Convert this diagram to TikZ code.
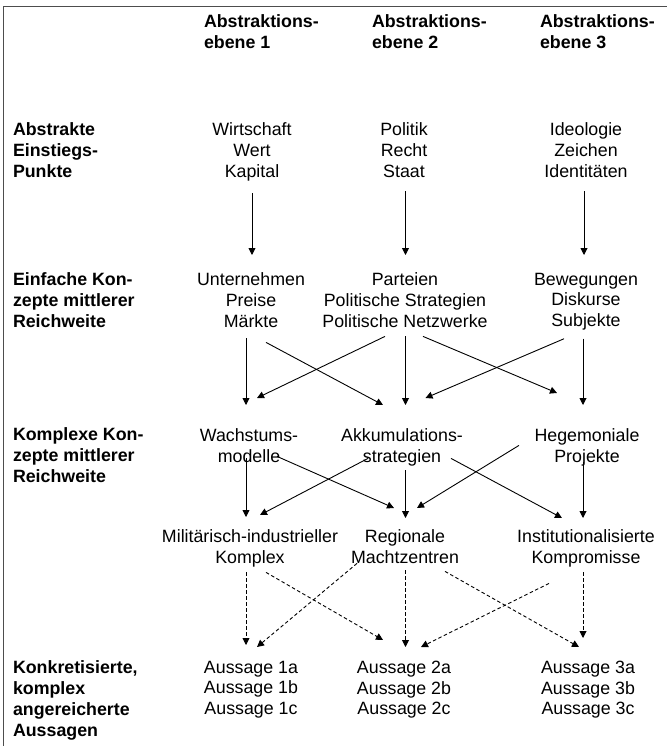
\documentclass[tikz,border=0pt]{standalone}
\usepackage{fontspec}
\setmainfont{Liberation Sans}
\usetikzlibrary{arrows.meta,calc}
\newcommand{\mystrut}{\rule[-1.7pt]{0pt}{16.2pt}}
\definecolor{framec}{HTML}{4D4D4D}
\tikzset{
  txt/.style={inner sep=0pt, outer sep=0pt, align=center, anchor=north,
    font=\fontsize{17.8}{20.8}\selectfont,
    execute at begin node=\mystrut, execute at end node=\mystrut},
  lab/.style={txt, align=left, anchor=north west, font=\fontsize{17.8}{20.8}\selectfont\bfseries},
  arr/.style={line width=0.9pt, -{Triangle[length=7pt,width=7pt]}},
  darr/.style={arr, dash pattern=on 3.5pt off 2.5pt},
  frame/.style={draw=framec, line width=1.7pt}
}
\begin{document}
\begin{tikzpicture}[x=1pt,y=-1pt]
\useasboundingbox (0,0) rectangle (667,746);
\draw[frame] (3.5,746) -- (3.5,6.5) -- (667,6.5);

% headers
\node[lab] (h1) at (204,14.9) {Abstraktions-\\ebene 1};
\node[lab] (h2) at (372,14.9) {Abstraktions-\\ebene 2};
\node[lab] (h3) at (540,14.9) {Abstraktions-\\ebene 3};

% row labels
\node[lab] (l1) at (13,122.9) {Abstrakte\\Einstiegs-\\Punkte};
\node[lab] (l2) at (13,272.9) {Einfache Kon-\\zepte mittlerer\\Reichweite};
\node[lab] (l3) at (13,427.9) {Komplexe Kon-\\zepte mittlerer\\Reichweite};
\node[lab] (l5) at (13,660.9) {Konkretisierte,\\komplex\\angereicherte\\Aussagen};

% row 1
\node[txt] (r1a) at (252,122.9) {Wirtschaft\\Wert\\Kapital};
\node[txt] (r1b) at (404,122.9) {Politik\\Recht\\Staat};
\node[txt] (r1c) at (586,122.9) {Ideologie\\Zeichen\\Identitäten};
% row 2
\node[txt] (r2a) at (251,272.9) {Unternehmen\\Preise\\Märkte};
\node[txt] (r2b) at (405,272.9) {Parteien\\Politische Strategien\\Politische Netzwerke};
\node[txt] (r2c) at (586,272.9) {Bewegungen\\Diskurse\\Subjekte};
% row 3
\node[txt] (r3a) at (249,428.9) {Wachstums-\\modelle};
\node[txt] (r3b) at (402,428.9) {Akkumulations-\\strategien};
\node[txt] (r3c) at (587,428.9) {Hegemoniale\\Projekte};
% row 4
\node[txt] (r4a) at (250,529.9) {Militärisch-industrieller\\Komplex};
\node[txt] (r4b) at (405,529.9) {Regionale\\Machtzentren};
\node[txt] (r4c) at (586,529.9) {Institutionalisierte\\Kompromisse};
% row 5
\node[txt] (r5a) at (251,660.9) {Aussage 1a\\Aussage 1b\\Aussage 1c};
\node[txt] (r5b) at (404,660.9) {Aussage 2a\\Aussage 2b\\Aussage 2c};
\node[txt] (r5c) at (588,660.9) {Aussage 3a\\Aussage 3b\\Aussage 3c};

% row 1 -> row 2
\draw[arr] ($(r1a.south)+(0,12.3)$) -- ($(r2a.north)+(1,-17.9)$);
\draw[arr] ($(r1b.south)+(1.5,12.3)$) -- ($(r2b.north)+(0.5,-17.9)$);
\draw[arr] ($(r1c.south)+(-2,12.3)$) -- ($(r2c.north)+(-2,-17.9)$);

% row 2 -> row 3
\draw[arr] ($(r2a.south)+(-5,9.3)$) -- ($(r3a.north)+(-3,-23.9)$);
\draw[arr] ($(r2a.south)+(15,13.3)$) -- ($(r3b.north)+(-19,-23.9)$);
\draw[arr] ($(r2b.south)+(-20,7.3)$) -- ($(r3a.north)+(8,-30.9)$);
\draw[arr] ($(r2b.south)+(0.5,7.3)$) -- ($(r3b.north)+(3.5,-23.9)$);
\draw[arr] ($(r2b.south)+(18,7.3)$) -- ($(r3c.north)+(-30,-35.9)$);
\draw[arr] ($(r2c.south)+(-22,8.3)$) -- ($(r3b.north)+(23.5,-30.9)$);
\draw[arr] ($(r2c.south)+(-3,8.3)$) -- ($(r3c.north)+(-4,-23.9)$);

% row 3 -> row 4
\draw[arr] ($(r3a.south)+(-3,-5.9)$) -- ($(r4a.north)+(-4,-12.9)$);
\draw[arr] ($(r3a.south)+(28,-7.9)$) -- ($(r4b.north)+(-11,-21.9)$);
\draw[arr] ($(r3b.south)+(-34,-7.9)$) -- ($(r4a.north)+(10,-14.9)$);
\draw[arr] ($(r3b.south)+(3.5,4.1)$) -- ($(r4b.north)+(0.5,-11.9)$);
\draw[arr] ($(r3c.south)+(-68,-20.9)$) -- ($(r4b.north)+(12,-21.9)$);
\draw[arr] ($(r3b.south)+(49,-7.9)$) -- ($(r4c.north)+(-24,-11.9)$);
\draw[arr] ($(r3c.south)+(-4,-3.9)$) -- ($(r4c.north)+(-3,-11.9)$);

% row 4 -> row 5 (dashed)
\draw[darr] ($(r4a.south)+(-4,5.1)$) -- ($(r5a.north)+(-5,-15.9)$);
\draw[darr] ($(r4a.south)+(16,5.1)$) -- ($(r5b.north)+(-21,-20.9)$);
\draw[darr] ($(r4b.south)+(-48,-1.9)$) -- ($(r5a.north)+(6,-13.9)$);
\draw[darr] ($(r4b.south)+(0.5,5.1)$) -- ($(r5b.north)+(1.5,-13.9)$);
\draw[darr] ($(r4b.south)+(40,6.1)$) -- ($(r5c.north)+(-9,-13.9)$);
\draw[darr] ($(r4c.south)+(-37,16.1)$) -- ($(r5b.north)+(17,-13.9)$);
\draw[darr] ($(r4c.south)+(-3,5.1)$) -- ($(r5c.north)+(-5,-22.9)$);
\end{tikzpicture}
\end{document}
